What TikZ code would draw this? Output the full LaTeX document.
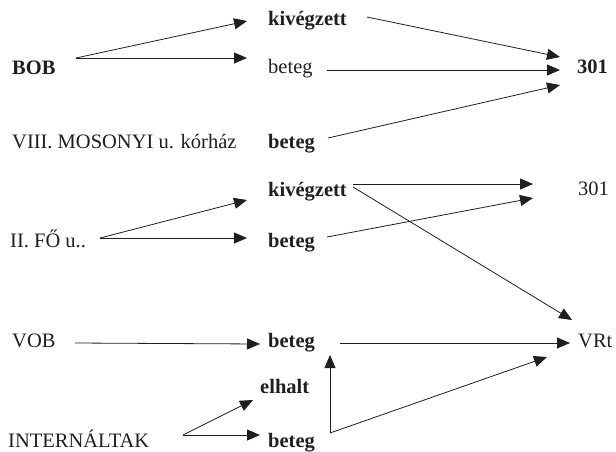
\documentclass[tikz,border=0pt]{standalone}
\usepackage{fontspec}
\setmainfont{Liberation Serif}
\usetikzlibrary{arrows.meta}
\begin{document}
\begin{tikzpicture}[x=1pt,y=-1pt,
  lbl/.style={anchor=base west,inner sep=0pt,font=\fontsize{20.5}{24}\selectfont,text=black!88},
  blbl/.style={lbl,font=\fontsize{20.5}{24}\selectfont\bfseries},
  arr/.style={line width=0.8pt,draw=black!88,-{Triangle[length=13pt,width=11pt]}}]
\useasboundingbox[fill=white] (0,0) rectangle (616,451);
% nodes
\node[blbl] (bob) at (12,74) {BOB};
\node[blbl] (kiv1) at (268,25) {kivégzett};
\node[lbl] (bet1) at (268,73) {beteg};
\node[blbl] (ta) at (577,73) {301};
\node[lbl] (mos) at (12,148) {VIII. MOSONYI u. kórház};
\node[blbl] (bet2) at (268,148) {beteg};
\node[blbl] (kiv2) at (268,196) {kivégzett};
\node[lbl] (tb) at (578,195) {301};
\node[lbl] (fo) at (10,247) {II. FŐ u..};
\node[blbl] (bet3) at (268,247) {beteg};
\node[lbl] (vob) at (12,347) {VOB};
\node[blbl] (bet4) at (268,347) {beteg};
\node[lbl] (vrt) at (578,347) {VRt};
\node[blbl] (elh) at (260,393) {elhalt};
\node[lbl] (intern) at (8,447) {INTERNÁLTAK};
\node[blbl] (bet5) at (268,447) {beteg};
% connectors
\draw[arr] ([shift={(64,-16)}]bob.base west) -- ([shift={(-21,-4)}]kiv1.base west);
\draw[arr] ([shift={(64,-16)}]bob.base west) -- ([shift={(-21,-15)}]bet1.base west);
\draw[arr] ([shift={(99,-8)}]kiv1.base west) -- ([shift={(-17,-16)}]ta.base west);
\draw[arr] ([shift={(59,-3)}]bet1.base west) -- ([shift={(-17,-3)}]ta.base west);
\draw[arr] ([shift={(60,-10)}]bet2.base west) -- ([shift={(-17,12)}]ta.base west);
\draw[arr] ([shift={(90,-9)}]fo.base west) -- ([shift={(-21,4)}]kiv2.base west);
\draw[arr] ([shift={(90,-9)}]fo.base west) -- ([shift={(-21,-9)}]bet3.base west);
\draw[arr] ([shift={(85,-12)}]kiv2.base west) -- ([shift={(-45,-11)}]tb.base west);
\draw[arr] ([shift={(59,-10)}]bet3.base west) -- ([shift={(-45,3)}]tb.base west);
\draw[arr] ([shift={(85,-9)}]kiv2.base west) -- ([shift={(-6,-27)}]vrt.base west);
\draw[arr] ([shift={(63,-4)}]vob.base west) -- ([shift={(-8,-3)}]bet4.base west);
\draw[arr] ([shift={(72,-4)}]bet4.base west) -- ([shift={(-8,-4)}]vrt.base west);
\draw[arr] ([shift={(175,-12)}]intern.base west) -- ([shift={(-7,7)}]elh.base west);
\draw[arr] ([shift={(175,-12)}]intern.base west) -- ([shift={(-8,-12)}]bet5.base west);
\draw[arr] ([shift={(62,-14)}]bet5.base west) -- ([shift={(62,8)}]bet4.base west);
\draw[arr] ([shift={(62,-14)}]bet5.base west) -- ([shift={(-31,10)}]vrt.base west);
\end{tikzpicture}
\end{document}
